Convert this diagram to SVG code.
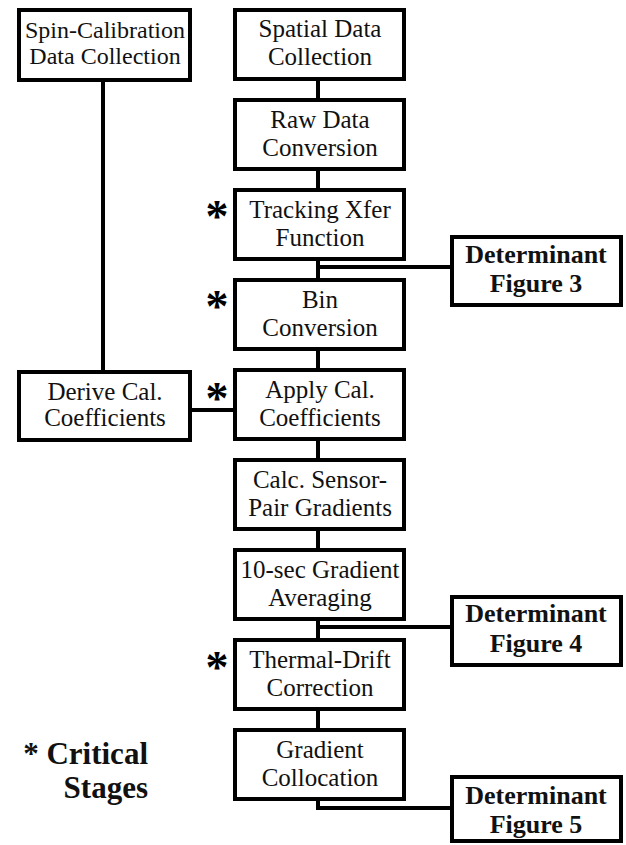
<svg xmlns="http://www.w3.org/2000/svg" width="626" height="845" viewBox="0 0 626 845">
<style>
.box{fill:#fff;stroke:#000;stroke-width:4}
.t{font-family:"Liberation Serif","Times New Roman",serif;font-size:25px;fill:#111;text-anchor:middle}
.s{font-size:24px}
.d{font-family:"Liberation Serif","Times New Roman",serif;font-size:26px;font-weight:bold;fill:#111;text-anchor:middle}
.ast{font-family:"Liberation Serif","Times New Roman",serif;font-size:46px;font-weight:bold;fill:#000;text-anchor:middle}
.leg{font-family:"Liberation Serif","Times New Roman",serif;font-size:31px;font-weight:bold;fill:#111;text-anchor:end}
.c{fill:none;stroke:#000;stroke-width:4}
</style>
<rect width="626" height="845" fill="#fff"/>
<g id="connectors">
<path class="c" d="M103 82V370"/>
<path class="c" d="M318 81V100M318 171V190M318 261V280M318 351V370M318 441V460M318 531V550M318 621V640M318 711V730"/>
<path class="c" d="M192 410H235"/>
<path class="c" d="M318 267H452"/>
<path class="c" d="M318 627H452"/>
<path class="c" d="M318 801V808H452"/>
</g>
<g id="spin"><rect class="box" x="19" y="10" width="171" height="70"/><text class="t s" x="105" y="38">Spin-Calibration</text><text class="t s" x="105" y="64">Data Collection</text></g>
<g id="derive"><rect class="box" x="19" y="372" width="171" height="68"/><text class="t" x="105" y="400">Derive Cal.</text><text class="t" x="105" y="426">Coefficients</text></g>
<g id="spatial"><rect class="box" x="235" y="10" width="169" height="69"/><text class="t" x="320" y="37">Spatial Data</text><text class="t" x="320" y="65">Collection</text></g>
<g id="raw"><rect class="box" x="235" y="100" width="169" height="69"/><text class="t" x="320" y="128">Raw Data</text><text class="t" x="320" y="156">Conversion</text></g>
<g id="tracking"><rect class="box" x="235" y="190" width="169" height="69"/><text class="t" x="320" y="218">Tracking Xfer</text><text class="t" x="320" y="246">Function</text><text class="ast" x="217" y="232">*</text></g>
<g id="bin"><rect class="box" x="235" y="280" width="169" height="69"/><text class="t" x="320" y="308">Bin</text><text class="t" x="320" y="336">Conversion</text><text class="ast" x="217" y="322">*</text></g>
<g id="apply"><rect class="box" x="235" y="370" width="169" height="69"/><text class="t" x="320" y="398">Apply Cal.</text><text class="t" x="320" y="426">Coefficients</text><text class="ast" x="217" y="414">*</text></g>
<g id="calc"><rect class="box" x="235" y="460" width="169" height="69"/><text class="t" x="320" y="488">Calc. Sensor-</text><text class="t" x="320" y="516">Pair Gradients</text></g>
<g id="avg"><rect class="box" x="235" y="550" width="169" height="69"/><text class="t" x="320" y="578">10-sec Gradient</text><text class="t" x="320" y="606">Averaging</text></g>
<g id="thermal"><rect class="box" x="235" y="640" width="169" height="69"/><text class="t" x="320" y="668">Thermal-Drift</text><text class="t" x="320" y="696">Correction</text><text class="ast" x="217" y="683">*</text></g>
<g id="colloc"><rect class="box" x="235" y="730" width="169" height="69"/><text class="t" x="320" y="758">Gradient</text><text class="t" x="320" y="786">Collocation</text></g>
<g id="fig3"><rect class="box" x="452" y="237" width="169" height="68"/><text class="d" x="536" y="263">Determinant</text><text class="d" x="536" y="292">Figure 3</text></g>
<g id="fig4"><rect class="box" x="452" y="597" width="169" height="68"/><text class="d" x="536" y="622">Determinant</text><text class="d" x="536" y="652">Figure 4</text></g>
<g id="fig5"><rect class="box" x="452" y="777" width="169" height="64"/><text class="d" x="536" y="804">Determinant</text><text class="d" x="536" y="833">Figure 5</text></g>
<g id="legend"><text class="leg" x="148" y="764">* Critical</text><text class="leg" x="148" y="798">Stages</text></g>
</svg>
